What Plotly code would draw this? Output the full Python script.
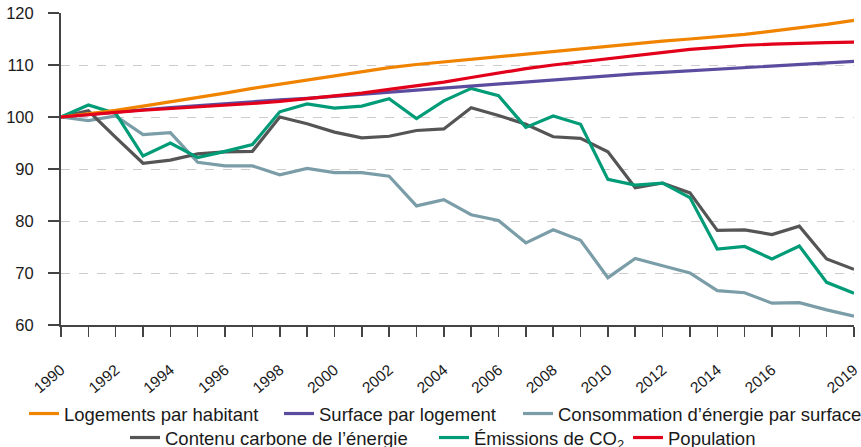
import plotly.graph_objects as go

years = list(range(1990, 2020))

logements_par_habitant = [100, 100.6, 101.3, 102.1, 102.9, 103.8, 104.6, 105.5, 106.3, 107.2,
                          108.0, 108.8, 109.5, 110.1, 110.6, 111.2, 111.7, 112.2, 112.7, 113.1,
                          113.6, 114.1, 114.6, 115.0, 115.4, 115.9, 116.5, 117.1, 117.8, 118.6]
surface_par_logement = [100, 100.5, 101.0, 101.4, 101.8, 102.2, 102.6, 103.0, 103.3, 103.6,
                        104.0, 104.4, 104.8, 105.2, 105.6, 106.0, 106.4, 106.8, 107.2, 107.5,
                        107.9, 108.3, 108.6, 108.9, 109.2, 109.5, 109.8, 110.1, 110.4, 110.7]
consommation_par_surface = [100, 99.3, 100.2, 96.6, 97.0, 91.3, 90.6, 90.6, 88.9, 90.1,
                            89.3, 89.3, 88.6, 82.9, 84.1, 81.2, 80.1, 75.8, 78.3, 76.3,
                            69.1, 72.8, 71.4, 70.0, 66.6, 66.2, 64.2, 64.3, 62.9, 61.7]
contenu_carbone = [100, 101.2, 96.1, 91.1, 91.7, 92.9, 93.3, 93.4, 100.0, 98.7,
                   97.1, 96.0, 96.3, 97.4, 97.7, 101.8, 100.3, 98.6, 96.2, 95.9,
                   93.3, 86.4, 87.3, 85.4, 78.2, 78.3, 77.4, 79.0, 72.7, 70.7]
emissions_co2 = [100, 102.3, 100.7, 92.5, 95.0, 92.2, 93.4, 94.7, 101.0, 102.5,
                 101.7, 102.1, 103.5, 99.7, 103.1, 105.5, 104.1, 98.0, 100.2, 98.6,
                 88.0, 86.9, 87.3, 84.5, 74.6, 75.1, 72.7, 75.2, 68.2, 66.1]
population = [100, 100.5, 100.9, 101.3, 101.6, 102.0, 102.3, 102.6, 103.0, 103.5,
              104.0, 104.6, 105.3, 106.0, 106.7, 107.6, 108.5, 109.3, 110.0, 110.6,
              111.2, 111.8, 112.4, 113.0, 113.4, 113.8, 114.0, 114.2, 114.3, 114.4]

tick_vals = [1990, 1992, 1994, 1996, 1998, 2000, 2002, 2004, 2006, 2008, 2010, 2012, 2014, 2016, 2019]
tick_text = [str(v) for v in tick_vals]
y_ticks = [60, 70, 80, 90, 100, 110, 120]

names = ["Logements par habitant", "Surface par logement",
         "Consommation d\u2019énergie par surface", "Contenu carbone de l\u2019énergie",
         "Émissions de CO<sub>2</sub>", "Population"]
values = [logements_par_habitant, surface_par_logement, consommation_par_surface,
          contenu_carbone, emissions_co2, population]
colors = ["#F08400", "#5C4C9F", "#7A9DA7", "#555555", "#009B77", "#E2001A"]
# legend entry placement (left pixel, centre row pixel)
leg_pos = [(24, 414), (279, 414), (518, 414), (125, 438), (434, 438), (628, 438)]

font_family = "Liberation Sans, Arial, sans-serif"
W, H = 861, 447

fig = go.Figure()
order = [2, 3, 4, 1, 0, 5]
for i in order:
    lg = "legend" if i == 0 else f"legend{i + 1}"
    fig.add_trace(go.Scatter(
        x=years, y=values[i], mode="lines", name=names[i],
        line=dict(color=colors[i], width=3.2),
        legend=lg, hoverinfo="skip",
    ))

legends = {}
for i, (px, py) in enumerate(leg_pos):
    key = "legend" if i == 0 else f"legend{i + 1}"
    legends[key] = dict(
        orientation="h", xref="container", yref="container",
        x=px / W, xanchor="left", y=1 - py / H, yanchor="middle",
        font=dict(size=18.5, family=font_family, color="#1a1a1a"), itemwidth=30,
        bgcolor="rgba(0,0,0,0)",
    )

fig.update_layout(
    width=W, height=H,
    margin=dict(l=61, r=7, t=13, b=122, autoexpand=False),
    paper_bgcolor="white", plot_bgcolor="white",
    font=dict(family=font_family, color="#1a1a1a", size=16),
    xaxis=dict(
        range=[1990, 2019], tickmode="array", tickvals=tick_vals, ticktext=tick_text,
        tickangle=-40, tickfont=dict(size=15.5), ticklabelstandoff=18,
        ticklabeloverflow="allow",
        showline=True, linecolor="#444444", linewidth=2,
        ticks="outside", ticklen=10, tickcolor="#444444", tickwidth=1.5,
        minor=dict(tickmode="linear", tick0=1990, dtick=1, ticks="outside", ticklen=10,
                   tickcolor="#444444", tickwidth=1.5, showgrid=False),
        showgrid=False, zeroline=False, fixedrange=True,
    ),
    yaxis=dict(
        range=[60, 120], tickvals=y_ticks, tickfont=dict(size=16.5), ticklabelstandoff=11,
        ticklabeloverflow="allow",
        showline=True, linecolor="#444444", linewidth=2,
        ticks="outside", ticklen=11, tickcolor="#444444", tickwidth=1.5,
        showgrid=True, gridcolor="#cccccc", griddash="dash", gridwidth=1,
        zeroline=False, fixedrange=True,
    ),
    showlegend=True,
    hovermode=False,
    **legends,
)

fig.write_html(
    "out.html",
    config={"displayModeBar": False, "staticPlot": True},
    post_script="document.body.style.margin='0';document.body.style.overflow='hidden';window.dispatchEvent(new Event('resize'));",
)
